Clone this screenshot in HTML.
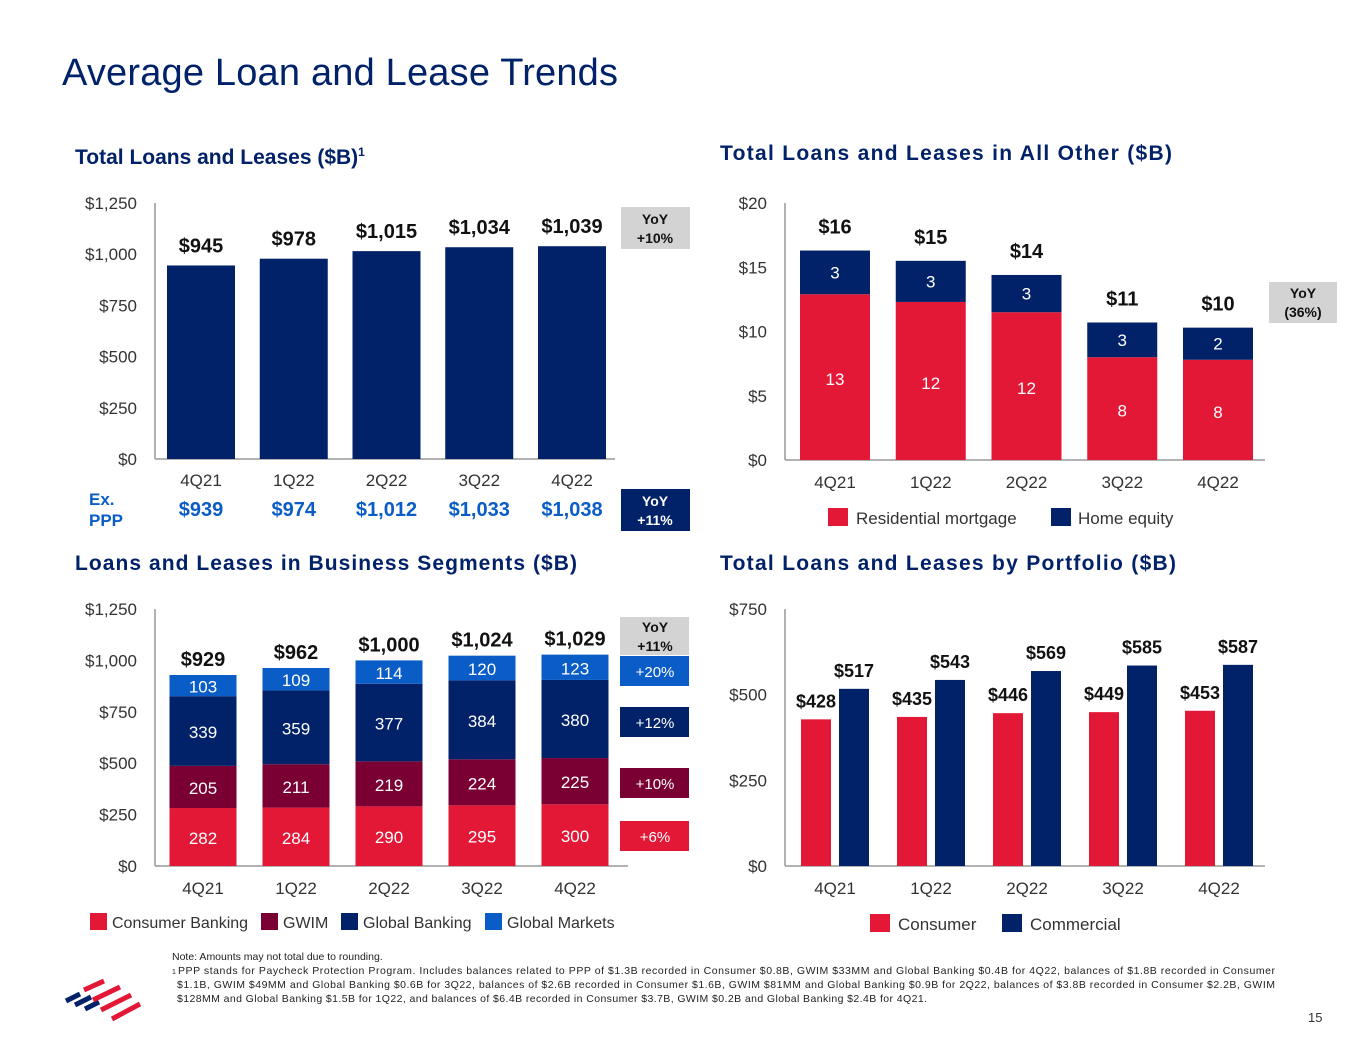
<!DOCTYPE html>
<html><head><meta charset="utf-8"><style>
body{margin:0;background:#fff;font-family:"Liberation Sans",sans-serif}
svg text{font-family:"Liberation Sans",sans-serif}
</style></head><body>
<svg id="s" width="1365" height="1055" viewBox="0 0 1365 1055" xmlns="http://www.w3.org/2000/svg">
<text x="62" y="85" font-size="38" fill="#012169" textLength="556">Average Loan and Lease Trends</text>
<text x="75" y="164" font-size="21" font-weight="bold" fill="#012169">Total Loans and Leases ($B)<tspan font-size="12" dy="-8">1</tspan></text>
<text x="720" y="160" font-size="21" font-weight="bold" fill="#012169" textLength="452">Total Loans and Leases in All Other ($B)</text>
<text x="75" y="570" font-size="21" font-weight="bold" fill="#012169" textLength="502">Loans and Leases in Business Segments ($B)</text>
<text x="720" y="570" font-size="21" font-weight="bold" fill="#012169" textLength="456">Total Loans and Leases by Portfolio ($B)</text>
<g id="g"></g>
<text x="172" y="960" font-size="10.5" fill="#222">Note: Amounts may not total due to rounding.</text>
<g font-size="10.5" fill="#222">
<text x="172" y="974" font-size="7">1</text>
<text x="178" y="974" textLength="1097">PPP stands for Paycheck Protection Program. Includes balances related to PPP of $1.3B recorded in Consumer $0.8B, GWIM $33MM and Global Banking $0.4B for 4Q22, balances of $1.8B recorded in Consumer</text>
<text x="177" y="988" textLength="1098">$1.1B, GWIM $49MM and Global Banking $0.6B for 3Q22, balances of $2.6B recorded in Consumer $1.6B, GWIM $81MM and Global Banking $0.9B for 2Q22, balances of $3.8B recorded in Consumer $2.2B, GWIM</text>
<text x="177" y="1002" textLength="750">$128MM and Global Banking $1.5B for 1Q22, and balances of $6.4B recorded in Consumer $3.7B, GWIM $0.2B and Global Banking $2.4B for 4Q21.</text>
</g>
<text x="1308" y="1022" font-size="13" fill="#333">15</text>
<g stroke-linecap="butt">
<line x1="66" y1="1001" x2="80" y2="994" stroke="#012169" stroke-width="5"/>
<line x1="75" y1="1005" x2="91" y2="997" stroke="#012169" stroke-width="5"/>
<line x1="85" y1="1009" x2="99" y2="1002" stroke="#012169" stroke-width="5"/>
<line x1="84" y1="990" x2="104" y2="981" stroke="#E31837" stroke-width="5"/>
<line x1="93" y1="1000" x2="120" y2="987" stroke="#E31837" stroke-width="5"/>
<line x1="101" y1="1010" x2="131" y2="995" stroke="#E31837" stroke-width="5"/>
<line x1="112" y1="1019" x2="140" y2="1004" stroke="#E31837" stroke-width="5"/>
</g>
</svg>
<script>
const quarters=["4Q21","1Q22","2Q22","3Q22","4Q22"];
const c1Values=[945,978,1015,1034,1039];
const c1Labels=["$945","$978","$1,015","$1,034","$1,039"];
const c1Ticks=[0,250,500,750,1000,1250];
const exPPP=["$939","$974","$1,012","$1,033","$1,038"];
const c2Mortgage=[12.9,12.3,11.5,8.0,7.8];
const c2Home=[3.4,3.2,2.9,2.7,2.5];
const c2MortLabels=["13","12","12","8","8"];
const c2HomeLabels=["3","3","3","3","2"];
const c2Totals=["$16","$15","$14","$11","$10"];
const c2Ticks=[0,5,10,15,20];
const c3Consumer=[282,284,290,295,300];
const c3GWIM=[205,211,219,224,225];
const c3GB=[339,359,377,384,380];
const c3GM=[103,109,114,120,123];
const c3Totals=["$929","$962","$1,000","$1,024","$1,029"];
const c3Ticks=[0,250,500,750,1000,1250];
const c4Consumer=[428,435,446,449,453];
const c4Commercial=[517,543,569,585,587];
const c4Ticks=[0,250,500,750];
const RED="#E31837",NAVY="#012169",MAROON="#7A0033",BLUE="#0A5CC7";
const g=document.getElementById('g');const NS="http://www.w3.org/2000/svg";
function el(t,a,txt){const e=document.createElementNS(NS,t);for(const k in a)e.setAttribute(k,a[k]);if(txt!==undefined)e.textContent=txt;g.appendChild(e);return e;}
function axes(x0,x1,y0,y1,max,ticks,fmt,prefix){
  const y=v=>y0-(v/max)*(y0-y1);
  ticks.forEach(t=>{const e=el('text',{x:x0-18,y:y(t)+6,'font-size':17,'text-anchor':'end',fill:'#333'},fmt(t));
    
    });
  let a=el('line',{x1:x0,y1:y1,x2:x0,y2:y0,stroke:'#999','stroke-width':1.5});
  
  
  a=el('line',{x1:x0,y1:y0,x2:x1,y2:y0,stroke:'#999','stroke-width':1.5});
  
  
  return y;}
function xlabels(cx,yy,prefix){quarters.forEach((q,i)=>{const e=el('text',{x:cx(i),y:yy,'font-size':17,'text-anchor':'middle',fill:'#333'},q);
  
  });}
function rect(x,y,w,h,f,name){const e=el('rect',{x:x,y:y,width:w,height:h,fill:f});
  
  return e;}
function txt(x,y,s,size,fill,bold,name,anchor){const e=el('text',{x:x,y:y,'font-size':size,fill:fill,'text-anchor':anchor||'middle','font-weight':bold?'bold':'normal'},s);
  
  return e;}
const money=t=>'$'+t.toLocaleString('en-US');
// Chart 1
{const cx=i=>201+i*92.75,w=68;const y=axes(155,615,459,203,1250,c1Ticks,money,'c1');
 c1Values.forEach((v,i)=>{rect(cx(i)-w/2,y(v),w,459-y(v),NAVY,'c1-bar-'+quarters[i]);
   txt(cx(i),y(v)-13,c1Labels[i],20,'#111',true,'c1-value-label');});
 xlabels(cx,486,'c1');
 exPPP.forEach((s,i)=>txt(cx(i),516,s,20,'#0A5CC7',true,'exppp-value'));
 txt(89,505,'Ex.',17,'#0A5CC7',true,'exppp-label','start');txt(89,526,'PPP',17,'#0A5CC7',true,'exppp-label','start');
 rect(621,207,69,42,'#D3D3D3','c1-yoy-box');txt(655,224,'YoY',14,'#111',true,'c1-yoy-text');txt(655,243,'+10%',14,'#111',true,'c1-yoy-text');
 rect(621,489,69,42,NAVY,'c1-yoy-ppp-box');txt(655,506,'YoY',14,'#fff',true,'c1-yoy-ppp-text');txt(655,525,'+11%',14,'#fff',true,'c1-yoy-ppp-text');}
// Chart 2
{const cx=i=>835+i*95.75,w=70;const y=axes(785,1265,460,203,20,c2Ticks,money,'c2');
 c2Mortgage.forEach((m,i)=>{const h=c2Home[i];
  rect(cx(i)-w/2,y(m),w,460-y(m),RED,'c2-bar-mortgage-'+quarters[i]);
  rect(cx(i)-w/2,y(m+h),w,y(m)-y(m+h),NAVY,'c2-bar-home-'+quarters[i]);
  txt(cx(i),(y(0)+y(m))/2+8,c2MortLabels[i],17,'#fff',false,'c2-mortgage-label');
  txt(cx(i),(y(m)+y(m+h))/2+6,c2HomeLabels[i],17,'#fff',false,'c2-home-label');
  txt(cx(i),y(m+h)-17,c2Totals[i],20,'#111',true,'c2-total-label');});
 xlabels(cx,488,'c2');
 rect(1269,282,68,41,'#D3D3D3','c2-yoy-box');txt(1303,298,'YoY',14,'#111',true,'c2-yoy-text');txt(1303,317,'(36%)',14,'#111',true,'c2-yoy-text');
 rect(828,508,20,18,RED,'legend-mortgage-swatch');txt(856,524,'Residential mortgage',17,'#333',false,'legend-mortgage','start');
 rect(1051,508,20,18,NAVY,'legend-home-swatch');txt(1078,524,'Home equity',17,'#333',false,'legend-home','start');}
// Chart 3
{const cx=i=>203+i*93,w=67;const y=axes(155,628,866,609,1250,c3Ticks,money,'c3');
 const series=[[c3Consumer,RED,'consumer'],[c3GWIM,MAROON,'gwim'],[c3GB,NAVY,'global-banking'],[c3GM,BLUE,'global-markets']];
 quarters.forEach((q,i)=>{let base=0;series.forEach(([arr,col,nm])=>{const v=arr[i];
   rect(cx(i)-w/2,y(base+v),w,y(base)-y(base+v),col,'c3-bar-'+nm+'-'+q);
   txt(cx(i),(y(base)+y(base+v))/2+7,String(v),17,'#fff',false,'c3-'+nm+'-label');base+=v;});
   txt(cx(i),y(base)-9,c3Totals[i],20,'#111',true,'c3-total-label');});
 xlabels(cx,894,'c3');
 rect(620,617,69,38,'#D3D3D3','c3-yoy-box');txt(655,632,'YoY',14,'#111',true,'c3-yoy-text');txt(655,651,'+11%',14,'#111',true,'c3-yoy-text');
 [[656,BLUE,'+20%'],[707,NAVY,'+12%'],[768,MAROON,'+10%'],[821,RED,'+6%']].forEach(([yy,c,s])=>{rect(620,yy,69,30,c,'c3-yoy-segment-box');txt(655,yy+21,s,15,'#fff',false,'c3-yoy-segment-text');});
 [[90,RED,'Consumer Banking'],[261,MAROON,'GWIM'],[341,NAVY,'Global Banking'],[485,BLUE,'Global Markets']].forEach(([xx,c,s])=>{rect(xx,913,17,17,c,'c3-legend-swatch');txt(xx+22,928,s,16,'#333',false,'c3-legend-label','start');});}
// Chart 4
{const cx=i=>835+i*96,w=30;const y=axes(785,1265,866,609,750,c4Ticks,money,'c4');
 quarters.forEach((q,i)=>{const a=c4Consumer[i],b=c4Commercial[i];
  rect(cx(i)-34,y(a),w,866-y(a),RED,'c4-bar-consumer-'+q);
  rect(cx(i)+4,y(b),w,866-y(b),NAVY,'c4-bar-commercial-'+q);
  txt(cx(i)-19,y(a)-12,'$'+a,18,'#111',true,'c4-consumer-label');
  txt(cx(i)+19,y(b)-12,'$'+b,18,'#111',true,'c4-commercial-label');});
 xlabels(cx,894,'c4');
 rect(870,914,20,18,RED,'legend-consumer-swatch');txt(898,930,'Consumer',17,'#333',false,'legend-consumer','start');
 rect(1002,914,20,18,NAVY,'legend-commercial-swatch');txt(1030,930,'Commercial',17,'#333',false,'legend-commercial','start');}
</script>
</body></html>
